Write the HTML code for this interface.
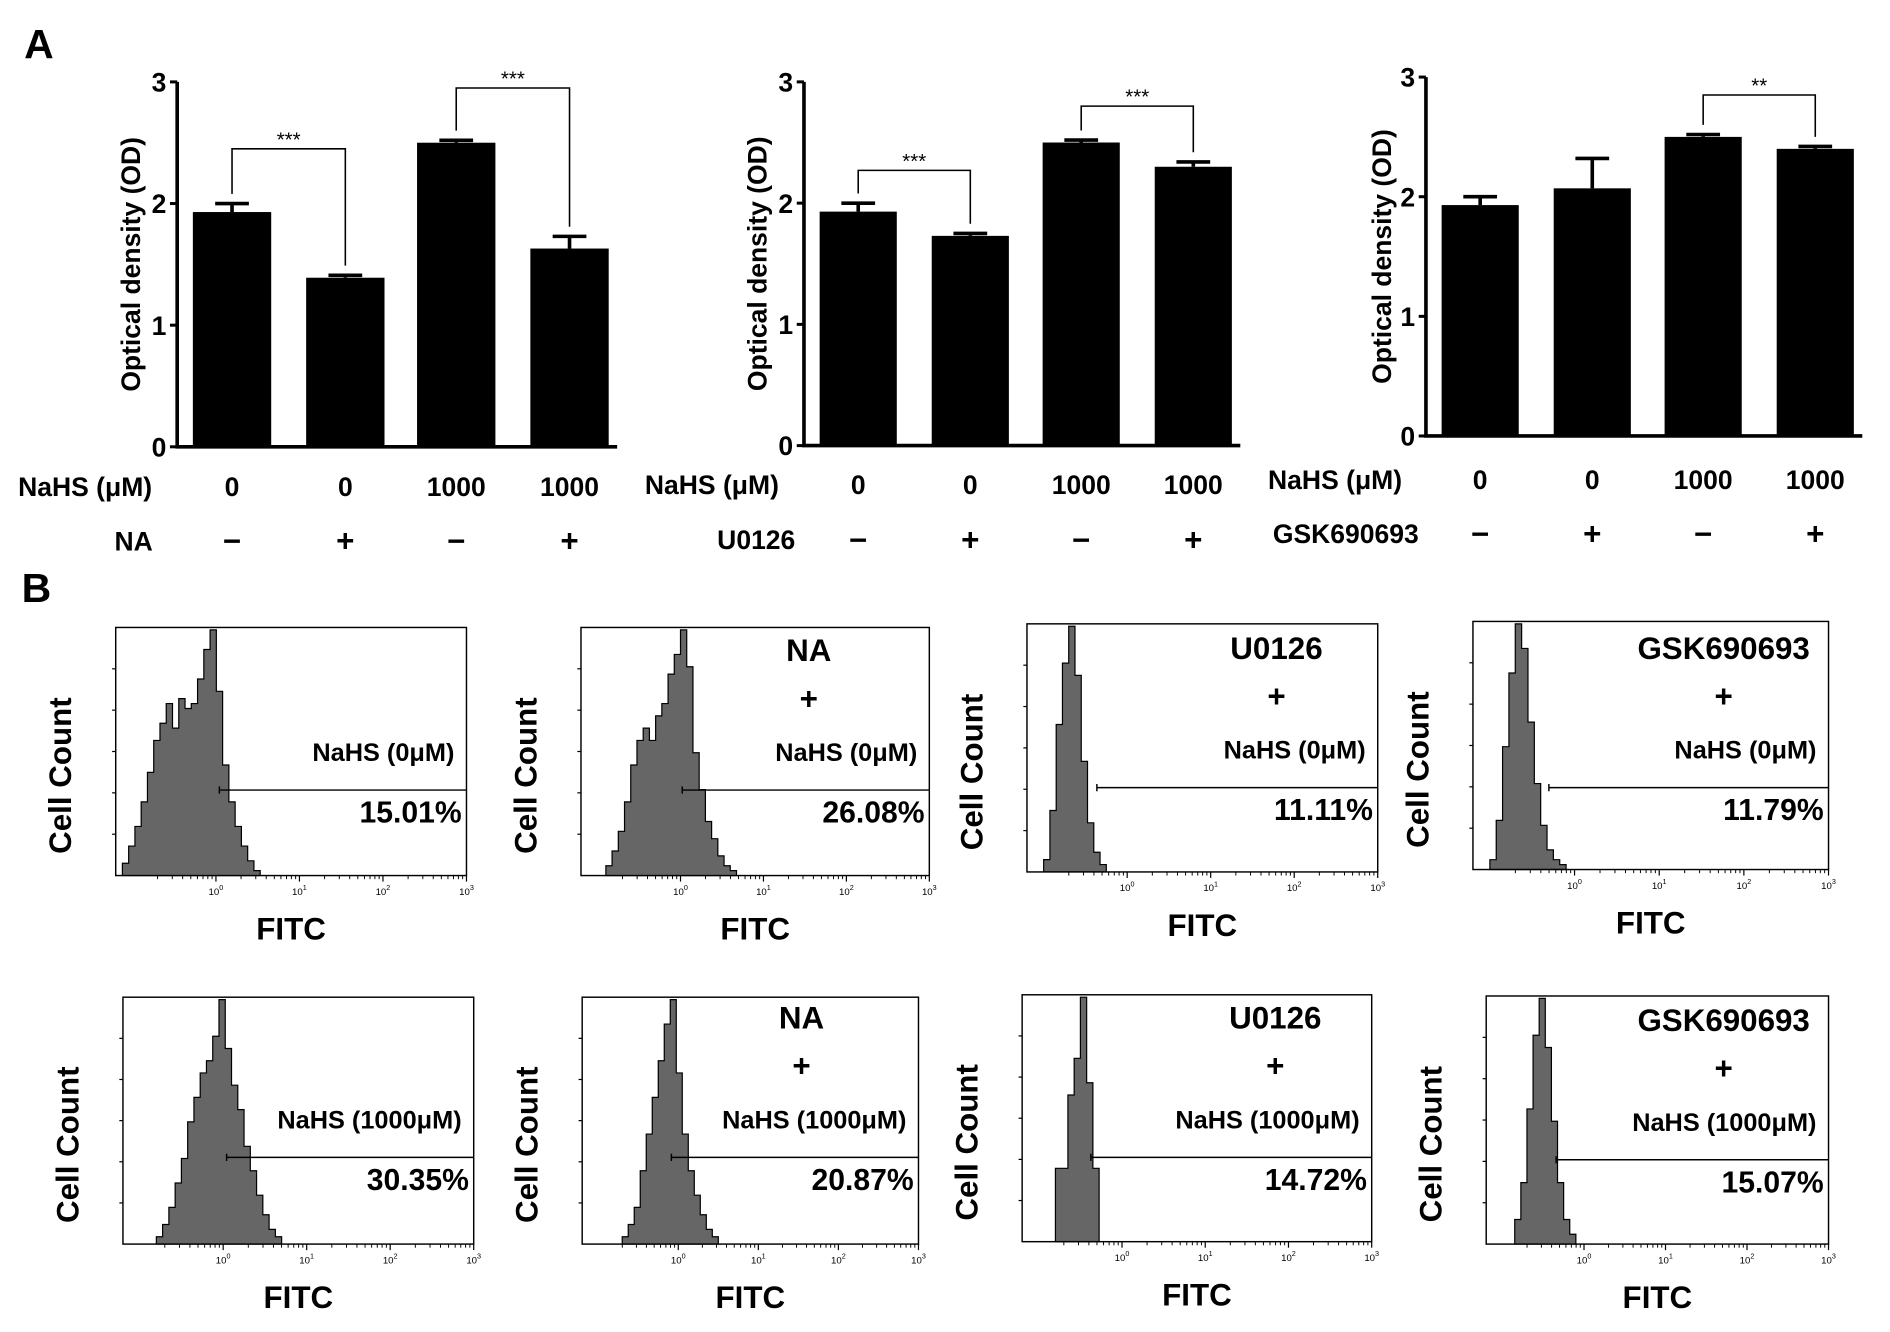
<!DOCTYPE html>
<html><head><meta charset="utf-8"><style>
html,body{margin:0;padding:0;background:#fff;}
svg{display:block;font-family:"Liberation Sans",Arial,sans-serif;}
</style></head><body>
<svg id="fig" width="1890" height="1332" viewBox="0 0 1568 1106" preserveAspectRatio="none" xmlns="http://www.w3.org/2000/svg">
<text x="20" y="48" font-size="34" font-weight="bold">A</text>
<text x="18" y="500" font-size="34" font-weight="bold">B</text>
<g id="bars"></g>
<g id="hists"></g>
</svg>
<script>
// ---- Panel A data ----
const barValues1 = [1.93, 1.39, 2.50, 1.63];
const barErrors1 = [0.07, 0.02, 0.02, 0.10];
const barValues2 = [1.93, 1.73, 2.50, 2.30];
const barErrors2 = [0.07, 0.02, 0.02, 0.04];
const barValues3 = [1.93, 2.07, 2.50, 2.40];
const barErrors3 = [0.07, 0.25, 0.02, 0.02];
const nahsLabels = ["0", "0", "1000", "1000"];
const inhibitorSigns = ["−", "+", "−", "+"];
const yTicks = [0, 1, 2, 3];
const sig1 = [{a:0,b:1,v:2.45,t:"***"},{a:2,b:3,v:2.95,t:"***"}];
const sig2 = [{a:0,b:1,v:2.27,t:"***"},{a:2,b:3,v:2.80,t:"***"}];
const sig3 = [{a:2,b:3,v:2.85,t:"**"}];

// ---- Panel B data (histogram bin heights) ----
const hist1 = [0.05,0.12,0.2,0.3,0.42,0.55,0.62,0.7,0.6,0.72,0.68,0.7,0.8,0.92,1.0,0.75,0.45,0.3,0.2,0.12,0.06,0.02];
const hist2 = [0.04,0.1,0.18,0.3,0.45,0.55,0.6,0.55,0.65,0.7,0.82,0.9,1.0,0.85,0.5,0.35,0.22,0.15,0.08,0.04,0.02];
const hist3 = [0.05,0.25,0.6,0.85,1.0,0.8,0.45,0.2,0.08,0.03];
const hist4 = [0.04,0.2,0.5,0.8,1.0,0.9,0.6,0.35,0.18,0.08,0.04,0.02];
const hist5 = [0.03,0.08,0.15,0.25,0.35,0.5,0.6,0.7,0.75,0.85,1.0,0.8,0.65,0.55,0.4,0.3,0.2,0.12,0.06,0.03];
const hist6 = [0.03,0.08,0.15,0.3,0.45,0.6,0.75,0.9,1.0,0.7,0.45,0.3,0.2,0.12,0.06,0.03];
const hist7 = [0.3,0.3,0.6,0.75,1.0,0.65,0.3];
const hist8 = [0.1,0.25,0.55,0.85,1.0,0.8,0.5,0.25,0.1,0.04];
const histStarts = [-1.12,-0.9,-1.0,-1.0,-0.8,-0.7,-0.8,-0.85];
const binWidth = 0.075;
const gatePcts = ["15.01%","26.08%","11.11%","11.79%","30.35%","20.87%","14.72%","15.07%"];
const gateCond = ["NaHS (0μM)","NaHS (0μM)","NaHS (0μM)","NaHS (0μM)","NaHS (1000μM)","NaHS (1000μM)","NaHS (1000μM)","NaHS (1000μM)"];
const inhibitors = ["","NA","U0126","GSK690693","","NA","U0126","GSK690693"];
const decadeLabels = ["0","1","2","3"];

const NS="http://www.w3.org/2000/svg";
function mk(tag, attrs, parent, text){
  const e=document.createElementNS(NS,tag);
  for(const k in attrs) e.setAttribute(k,attrs[k]);
  if(text!==undefined) e.textContent=text;
  parent.appendChild(e); return e;
}

const barCfgs = [
 {ax:147, y0:371, y3:68, bx:[160,254,346,440], bw:65, axEnd:512, vals:barValues1, errs:barErrors1, sig:sig1, lblX:15, rowY:[404,449], inh:"NA", yl:108},
 {ax:667, y0:370, y3:68, bx:[680,773,865,958], bw:64, axEnd:1029, vals:barValues2, errs:barErrors2, sig:sig2, lblX:535, rowY:[402,448], inh:"U0126", yl:628},
 {ax:1183, y0:362, y3:64, bx:[1196,1289,1381,1474], bw:64, axEnd:1545, vals:barValues3, errs:barErrors3, sig:sig3, lblX:1052, rowY:[398,443], inh:"GSK690693", yl:1146}
];
const bg=document.getElementById('bars');
barCfgs.forEach((c,ci)=>{
  const g=mk('g',{},bg);
  
  
  const ys=v=>c.y0-(c.y0-c.y3)*v/3;
  const ax=mk('path',{d:`M${c.ax},${c.y3} V${c.y0} H${c.axEnd}`,stroke:'#000','stroke-width':3,fill:'none'},g);
  
  
  yTicks.forEach(t=>{
    mk('line',{x1:c.ax-6,x2:c.ax,y1:ys(t),y2:ys(t),stroke:'#000','stroke-width':2.5},g);
    const tl=mk('text',{x:c.ax-9,y:ys(t)+8,'font-size':22,'font-weight':'bold','text-anchor':'end'},g,String(t));
    
    
  });
  const mid=(c.y0+c.y3)/2;
  const yl=mk('text',{x:c.yl+8,y:mid,'font-size':22,'font-weight':'bold','text-anchor':'middle',transform:`rotate(-90 ${c.yl+8} ${mid})`},g,'Optical density (OD)');
  
  
  c.vals.forEach((v,i)=>{
    const x=c.bx[i], cx=x+c.bw/2;
    const r=mk('rect',{x:x,y:ys(v),width:c.bw,height:c.y0-ys(v),fill:'#000'},g);
    
    
    const e=c.errs[i];
    mk('path',{d:`M${cx},${ys(v)} V${ys(v+e)} M${cx-14},${ys(v+e)} H${cx+14}`,stroke:'#000','stroke-width':3},g);
    const n=mk('text',{x:cx,y:c.rowY[0]+8,'font-size':22,'font-weight':'bold','text-anchor':'middle'},g,nahsLabels[i]);
    
    
    const s=mk('text',{x:cx,y:c.rowY[1]+9,'font-size':26,'font-weight':'bold','text-anchor':'middle'},g,inhibitorSigns[i]);
    
    
  });
  const l1=mk('text',{x:c.lblX,y:c.rowY[0]+8,'font-size':22,'font-weight':'bold'},g,'NaHS (μM)');
  
  
  const l2=mk('text',{x:c.inh==="NA"?95:c.lblX+ (c.inh==="U0126"?60:4),y:c.rowY[1]+8,'font-size':22,'font-weight':'bold'},g,c.inh);
  
  
  c.sig.forEach(s=>{
    const xa=c.bx[s.a]+c.bw/2, xb=c.bx[s.b]+c.bw/2, y=ys(s.v);
    const ya=ys(c.vals[s.a]+c.errs[s.a])-8, yb=ys(c.vals[s.b]+c.errs[s.b])-8;
    const br=mk('path',{d:`M${xa},${ya} V${y} H${xb} V${yb}`,stroke:'#000','stroke-width':1.3,fill:'none'},g);
    
    
    const st=mk('text',{x:(xa+xb)/2,y:y-2,'font-size':17,'text-anchor':'middle'},g,s.t);
    
    
  });
});

// ---- Panel B ----
const hists=[hist1,hist2,hist3,hist4,hist5,hist6,hist7,hist8];
const boxes=[
 {x:96,y:521,w:291,h:206,gate:656,gx:182,io:0},
 {x:482,y:521,w:289,h:206,gate:656,gx:566,io:96},
 {x:852,y:518,w:291,h:206,gate:654,gx:910,io:80},
 {x:1222,y:516,w:295,h:206,gate:654,gx:1285,io:83},
 {x:102,y:828,w:291,h:205,gate:961,gx:188,io:0},
 {x:483,y:828,w:279,h:205,gate:961,gx:557,io:93},
 {x:848,y:826,w:290,h:205,gate:961,gx:905,io:76},
 {x:1233,y:827,w:284,h:206,gate:963,gx:1291,io:83}
];
const hg=document.getElementById('hists');
boxes.forEach((b,i)=>{
  const g=mk('g',{},hg);
  
  
  const lo=-1.2, hi=3;
  const xs=d=>b.x+(d-lo)/(hi-lo)*b.w;
  const ys=f=>b.y+b.h-f*(b.h-2);
  const data=hists[i], st=histStarts[i];
  let d=`M${xs(st)},${b.y+b.h}`;
  data.forEach((v,k)=>{ d+=` V${ys(v)} H${xs(st+(k+1)*binWidth)}`; });
  d+=` V${b.y+b.h} Z`;
  const h=mk('path',{d:d,fill:'#666',stroke:'#000','stroke-width':1},g);
  
  
  const fr=mk('rect',{x:b.x,y:b.y,width:b.w,height:b.h,fill:'none',stroke:'#000','stroke-width':1.2},g);
  
  
  for(let k=1;k<=5;k++){ const yy=b.y+b.h-k*b.h/6; mk('line',{x1:b.x-3,x2:b.x,y1:yy,y2:yy,stroke:'#000','stroke-width':1},g); }
  for(let dd=-1;dd<3;dd++) for(let m=2;m<=9;m++){ const xx=xs(dd+Math.log10(m)); if(xx>b.x) mk('line',{x1:xx,x2:xx,y1:b.y+b.h,y2:b.y+b.h+3,stroke:'#000','stroke-width':0.8},g); }
  decadeLabels.forEach(t=>{
    const xx=xs(+t);
    mk('line',{x1:xx,x2:xx,y1:b.y+b.h,y2:b.y+b.h+5,stroke:'#000','stroke-width':1},g);
    const tl=mk('text',{x:xx,y:b.y+b.h+16,'font-size':8,'text-anchor':'middle'},g,'10');
    mk('tspan',{dy:-4,'font-size':6},tl,t);
    
    
  });
  const gl=mk('path',{d:`M${b.gx},${b.gate-3} V${b.gate+3} M${b.gx},${b.gate} H${b.x+b.w}`,stroke:'#000','stroke-width':1.2},g);
  
  
  const right=b.x+b.w-4;
  const p=mk('text',{x:right,y:b.gate+27,'font-size':25,'font-weight':'bold','text-anchor':'end'},g,gatePcts[i]);
  
  
  const cnd=mk('text',{x:right-6,y:b.gate-24,'font-size':21,'font-weight':'bold','text-anchor':'end'},g,gateCond[i]);
  
  
  if(inhibitors[i]){
    const cx=right-b.io;
    const t1=mk('text',{x:cx,y:b.gate-107,'font-size':26,'font-weight':'bold','text-anchor':'middle'},g,inhibitors[i]);
    
    
    const t2=mk('text',{x:cx,y:b.gate-67,'font-size':26,'font-weight':'bold','text-anchor':'middle'},g,'+');
    
    
  }
  const yc=b.y+b.h/2+20, xl=b.x-37;
  const yl=mk('text',{x:xl,y:yc,'font-size':26,'font-weight':'bold','text-anchor':'middle',transform:`rotate(-90 ${xl} ${yc})`},g,'Cell Count');
  
  
  const xt=mk('text',{x:b.x+b.w/2,y:b.y+b.h+53,'font-size':26,'font-weight':'bold','text-anchor':'middle'},g,'FITC');
  
  
});
</script>
</body></html>
